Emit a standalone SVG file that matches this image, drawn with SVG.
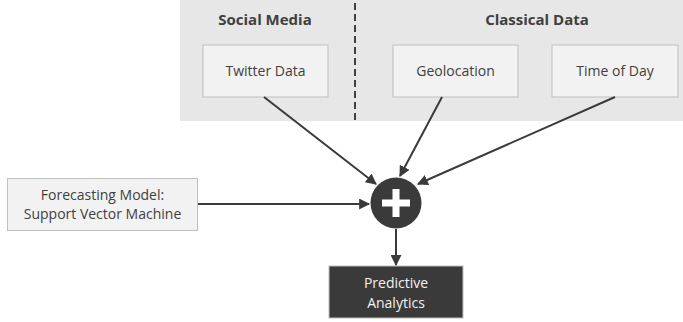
<svg xmlns="http://www.w3.org/2000/svg" width="683" height="322" viewBox="0 0 683 322">
<defs>
<style>
.box{fill:#f2f2f2;stroke:#bfbfbf;stroke-width:1}
.t{font-family:"Open Sans","Liberation Sans",sans-serif;font-size:14px;fill:#404040;text-anchor:middle}
.h{font-family:"Open Sans","Liberation Sans",sans-serif;font-size:15px;font-weight:bold;fill:#404040;text-anchor:middle}
.w{font-family:"Open Sans","Liberation Sans",sans-serif;font-size:14px;fill:#f2f2f2;text-anchor:middle}
.c{stroke:#3a3a3a;stroke-width:2;fill:none;marker-end:url(#ah)}
</style>
<marker id="ah" viewBox="0 0 10 10" refX="9" refY="5" markerWidth="5.5" markerHeight="5.5" orient="auto" markerUnits="strokeWidth">
<path d="M0,0 L10,5 L0,10 z" fill="#3a3a3a"/>
</marker>
</defs>
<rect x="0" y="0" width="683" height="322" fill="#ffffff"/>
<g id="panel">
<rect x="180" y="0" width="503" height="121" fill="#e7e7e7"/>
<line x1="355" y1="3" x2="355" y2="121" stroke="#404040" stroke-width="2" stroke-dasharray="7,4"/>
<text class="h" x="265" y="25">Social Media</text>
<text class="h" x="537" y="25">Classical Data</text>
</g>
<g id="twitter">
<rect class="box" x="203" y="45" width="125" height="52"/>
<text class="t" x="265.5" y="76">Twitter Data</text>
</g>
<g id="geolocation">
<rect class="box" x="393" y="45" width="125" height="52"/>
<text class="t" x="455.5" y="76">Geolocation</text>
</g>
<g id="timeofday">
<rect class="box" x="552" y="45" width="126" height="52"/>
<text class="t" x="615" y="76">Time of Day</text>
</g>
<g id="forecasting">
<rect class="box" x="7.5" y="178.5" width="190" height="52"/>
<text class="t" x="102.5" y="200">Forecasting Model:</text>
<text class="t" x="102.5" y="219">Support Vector Machine</text>
</g>
<g id="combine">
<circle cx="396" cy="203" r="25.5" fill="#3a3a3a"/>
<rect x="382" y="199.5" width="28" height="7" fill="#ffffff"/>
<rect x="392.5" y="189" width="7" height="28" fill="#ffffff"/>
</g>
<g id="predictive">
<rect x="329" y="266" width="134" height="52" fill="#3a3a3a" stroke="#bfbfbf" stroke-width="1"/>
<text class="w" x="396" y="288">Predictive</text>
<text class="w" x="396" y="308">Analytics</text>
</g>
<g id="connectors">
<path class="c" d="M264,97 L376,184"/>
<path class="c" d="M442,97 L400,176"/>
<path class="c" d="M615,97 L418,184"/>
<path class="c" d="M198,204 L369,204"/>
<path class="c" d="M396,229 L396,265"/>
</g>
</svg>
